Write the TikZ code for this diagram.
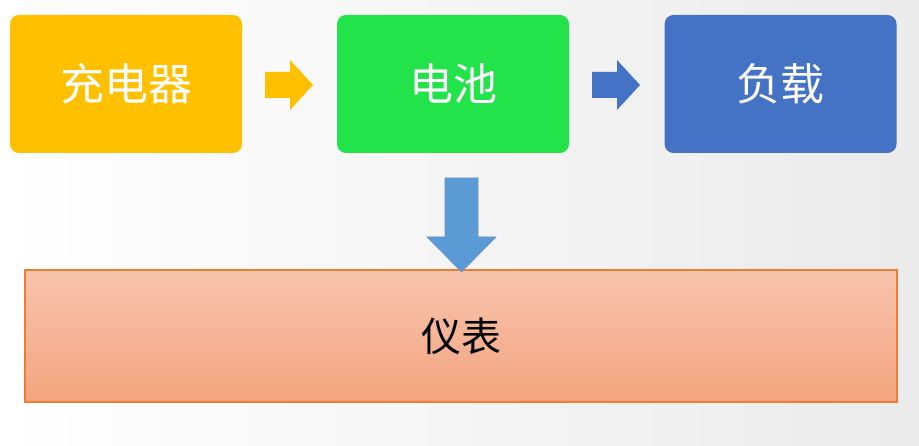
\documentclass[tikz,border=0pt]{standalone}
\usepackage{fontspec}
\newfontfamily\cjk{Noto Sans CJK SC}
\definecolor{cy}{HTML}{FFC000}
\definecolor{cg}{HTML}{22E34A}
\definecolor{cb}{HTML}{4472C4}
\definecolor{ca}{HTML}{5B9BD5}
\definecolor{ctop}{HTML}{F7C4AC}
\definecolor{cbot}{HTML}{F4A47F}
\definecolor{cbd}{HTML}{ED7D31}
\tikzset{box/.style={rounded corners=9pt,minimum width=232pt,minimum height=138pt,text=white,font=\cjk\fontsize{44}{44}\selectfont},
blk/.style={draw=none}}
\begin{document}
\begin{tikzpicture}[x=1pt,y=-1pt]
\shade[left color=white,right color=black!8] (0,0) rectangle (919,446);
\useasboundingbox (0,0) rectangle (919,446);
\node[box,fill=cy] (a) at (126,84) {充电器};
\node[box,fill=cg] (b) at (453,84) {电池};
\node[box,fill=cb] (c) at (780.5,84) {负载};
\node[draw=cbd,line width=1.2pt,top color=ctop,bottom color=cbot,minimum width=872pt,minimum height=132pt,font=\cjk\fontsize{40}{40}\selectfont] (d) at (461,336) {仪表};
\fill[cy] (265,72) -- (290,72) -- (290,60) -- (313,85) -- (290,110) -- (290,98) -- (265,98) -- cycle;
\fill[cb] (592,72) -- (617,72) -- (617,60) -- (640,85) -- (617,110) -- (617,98) -- (592,98) -- cycle;
\filldraw[fill=ca,draw=cb!80,line width=0.6pt] (445,178) -- (478,178) -- (478,237) -- (496,237) -- (461.5,272) -- (427,237) -- (445,237) -- cycle;
\end{tikzpicture}
\end{document}
